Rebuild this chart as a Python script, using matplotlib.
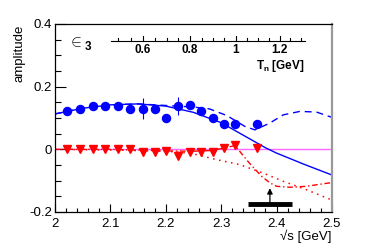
import numpy as np
import matplotlib
matplotlib.use("Agg")
import matplotlib.pyplot as plt

plt.rcParams['font.family'] = ['Liberation Sans', 'DejaVu Sans']
plt.rcParams['mathtext.fontset'] = 'custom'
plt.rcParams['mathtext.rm'] = 'Liberation Sans'
plt.rcParams['mathtext.bf'] = 'Liberation Sans:bold'

# --- data -------------------------------------------------------------
blue_x = [2.022, 2.045, 2.068, 2.090, 2.113, 2.135, 2.158, 2.180, 2.200,
          2.222, 2.243, 2.263, 2.285, 2.305, 2.325, 2.365]
blue_y = [0.121, 0.130, 0.139, 0.139, 0.139, 0.130, 0.130, 0.130, 0.100,
          0.139, 0.140, 0.121, 0.100, 0.081, 0.081, 0.081]
blue_err = [0.008, 0.008, 0.008, 0.008, 0.008, 0.010, 0.033, 0.010, 0.010,
            0.028, 0.010, 0.010, 0.010, 0.010, 0.010, 0.010]

red_x = blue_x
red_y = [0.002, 0.002, 0.002, 0.002, 0.002, 0.002, -0.008, -0.008, -0.006,
         -0.020, -0.007, -0.007, -0.007, 0.004, 0.015, 0.004]
red_err = [0.006] * 16

solid_x = [2.00, 2.05, 2.10, 2.15, 2.20, 2.25, 2.30, 2.35, 2.38, 2.40, 2.45, 2.50]
solid_y = [0.113, 0.131, 0.142, 0.145, 0.138, 0.118, 0.085, 0.035, 0.005, -0.012, -0.048, -0.082]

dash_x = [2.00, 2.05, 2.10, 2.15, 2.20, 2.25, 2.279, 2.31, 2.343, 2.361, 2.388, 2.412, 2.442, 2.472, 2.50]
dash_y = [0.113, 0.131, 0.142, 0.145, 0.140, 0.135, 0.129, 0.108, 0.073, 0.062, 0.084, 0.110, 0.121, 0.119, 0.102]

dashdot_x = [2.00, 2.10, 2.20, 2.25, 2.28, 2.305, 2.325, 2.351, 2.373, 2.388, 2.40, 2.424, 2.454, 2.484, 2.50]
dashdot_y = [0.0, 0.0, -0.005, -0.006, -0.004, 0.004, 0.012, -0.044, -0.086, -0.107, -0.118, -0.121, -0.118, -0.110, -0.106]

dot_x = [2.00, 2.10, 2.20, 2.244, 2.292, 2.334, 2.376, 2.412, 2.454, 2.496]
dot_y = [0.0, -0.002, -0.006, -0.012, -0.033, -0.049, -0.076, -0.102, -0.129, -0.159]

tn_major = [0.6, 0.8, 1.0, 1.2]
tn_labels = ["0.6", "0.8", "1", "1.2"]
tn_minor = [0.5, 0.55, 0.65, 0.7, 0.75, 0.85, 0.9, 0.95, 1.05, 1.1, 1.15, 1.25, 1.3]
tn_range = [0.47, 1.318]

arrow_x = 2.388
arrow_y = [-0.172, -0.124]
bar_x = [2.349, 2.427]
bar_y = -0.1735

M_N = 0.9396  # neutron mass [GeV]


def tn_to_sqrts(t):
    t = np.asarray(t, dtype=float)
    return np.sqrt(4 * M_N ** 2 + 2 * M_N * t)


# --- figure -----------------------------------------------------------
fig = plt.figure(figsize=(3.7, 2.5), dpi=100)
ax = fig.add_axes([0.1486, 0.152, 0.7486, 0.752])
ax.set_xlim(2.0, 2.5)
ax.set_ylim(-0.2, 0.4)

ax.axhline(0.0, color='#ff66ff', lw=1.0, zorder=1)

ax.plot(solid_x, solid_y, color='#0000ff', lw=1.0, zorder=2)
ax.plot(dash_x, dash_y, color='#0000ff', lw=1.0, ls=(0, (5, 3.5)), zorder=2)
ax.plot(dashdot_x, dashdot_y, color='#ff0000', lw=1.0, ls=(0, (4, 2, 1, 2)), zorder=2)
ax.plot(dot_x, dot_y, color='#ff0000', lw=1.1, ls=(0, (1, 3)), zorder=2)

ax.errorbar(blue_x, blue_y, yerr=blue_err, fmt='o', color='#0000ff', ms=5.8,
            elinewidth=0.8, capsize=0, zorder=4)
ax.errorbar(red_x, red_y, yerr=red_err, fmt='v', color='#ff0000', ms=5.8,
            elinewidth=0.8, capsize=0, zorder=4)

# threshold arrow and bar
ax.plot(bar_x, [bar_y, bar_y], color='black', lw=3.5, solid_capstyle='butt', zorder=5)
ax.annotate('', xy=(arrow_x, arrow_y[1]), xytext=(arrow_x, arrow_y[0]),
            arrowprops=dict(arrowstyle='-|>', color='black', lw=0.9,
                            mutation_scale=8, shrinkA=0, shrinkB=0), zorder=5)

# inset T_n axis
yline = 0.347
x0, x1 = tn_to_sqrts(tn_range)
ax.plot([x0, x1], [yline, yline], color='black', lw=0.8, zorder=3)
for t in tn_major:
    xs = float(tn_to_sqrts(t))
    ax.plot([xs, xs], [yline, yline + 0.014], color='black', lw=0.8)
for t in tn_minor:
    xs = float(tn_to_sqrts(t))
    ax.plot([xs, xs], [yline, yline + 0.007], color='black', lw=0.8)
for t, lab in zip(tn_major, tn_labels):
    ax.text(float(tn_to_sqrts(t)), yline - 0.012, lab, ha='center', va='top',
            fontsize=8.5, fontweight='bold')
ax.text(x1, yline - 0.055, r'T$_\mathbf{n}$ [GeV]', ha='right', va='top',
        fontsize=8.5, fontweight='bold')

ax.text(0.045, 0.94, r'${\in}_{\mathbf{3}}$', transform=ax.transAxes, ha='left',
        va='top', fontsize=12)

# axes styling
ax.set_xticks([2.0, 2.1, 2.2, 2.3, 2.4, 2.5])
ax.set_xticklabels(["2", "2.1", "2.2", "2.3", "2.4", "2.5"])
ax.set_yticks([-0.2, 0.0, 0.2, 0.4])
ax.set_yticklabels(["-0.2", "0", "0.2", "0.4"])
ax.set_xticks(np.arange(2.0, 2.501, 0.02), minor=True)
ax.set_yticks(np.arange(-0.2, 0.401, 0.05), minor=True)
ax.tick_params(which='both', direction='in', top=False, right=False, labelsize=9.5)
ax.tick_params(axis='x', which='major', length=6, width=0.8, pad=4)
ax.tick_params(axis='x', which='minor', length=3, width=0.8)
ax.tick_params(axis='y', which='major', length=8, width=0.8, pad=2)
ax.tick_params(axis='y', which='minor', length=4, width=0.8)

for s in ['left', 'bottom', 'top']:
    ax.spines[s].set_linewidth(0.9)
    ax.spines[s].set_color('black')
ax.spines['right'].set_color('#999999')
ax.spines['right'].set_linewidth(1.6)

fig.text(20 / 370, 1 - 25 / 250, 'amplitude', rotation=90, ha='center', va='top', fontsize=9.5)
fig.text(332 / 370, 1 - 236 / 250, '√s [GeV]', ha='right', va='center', fontsize=9.5)

fig.savefig('out.png', dpi=100)
